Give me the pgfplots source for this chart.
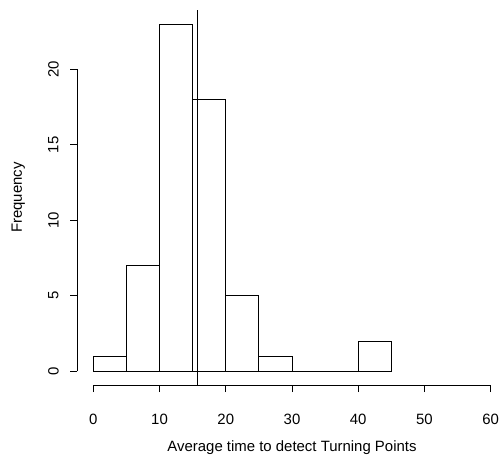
\documentclass[border=0pt]{standalone}
\usepackage{pgfplots}
\pgfplotsset{compat=1.18}
\usepackage{fontspec}
\setmainfont{Liberation Sans}
\newcommand{\rfont}{\fontsize{11.2}{13.4}\selectfont}
\begin{document}
\begin{tikzpicture}
\begin{axis}[
  at={(58.05pt,53.85pt)}, anchor=south west,
  scale only axis, width=321.9pt, height=281.3pt,
  xmin=-2.4, xmax=62.4, ymin=-0.92, ymax=23.92,
  axis x line*=bottom, axis y line*=left,
  axis line style={draw=none},
  clip=false,
  xtick={0,10,20,30,40,50,60},
  ytick={0,5,10,15,20},
  tick align=outside,
  major tick length=5.25pt,
  tick style={black, line width=0.75pt},
  /pgf/number format/assume math mode=true,
  xticklabel style={font=\rfont, anchor=center, yshift=-20.1pt},
  yticklabel style={font=\rfont, rotate=90, anchor=center, yshift=12.75pt},
  xlabel={Average time to detect Turning Points},
  ylabel={Frequency},
  xlabel style={font=\rfont, at={(axis description cs:0.5,-0.1674)}, anchor=center},
  ylabel style={font=\rfont, at={(axis description cs:-0.1375,0.5)}, anchor=center},
]
\addplot[ybar interval, draw=black, fill=white, line width=0.75pt] coordinates {
  (0,1) (5,7) (10,23) (15,18) (20,5) (25,1) (30,0) (35,0) (40,2) (45,0)
};
\addplot[black, line width=0.75pt] coordinates {(15.8,-0.92) (15.8,23.92)};
\draw[line width=0.75pt] (axis cs:0,-0.92) -- (axis cs:60,-0.92);
\draw[line width=0.75pt] (axis cs:-2.4,0) -- (axis cs:-2.4,20);
\end{axis}
\pgfresetboundingbox
\useasboundingbox (0,0) rectangle (375pt,342.75pt);
\end{tikzpicture}
\end{document}
